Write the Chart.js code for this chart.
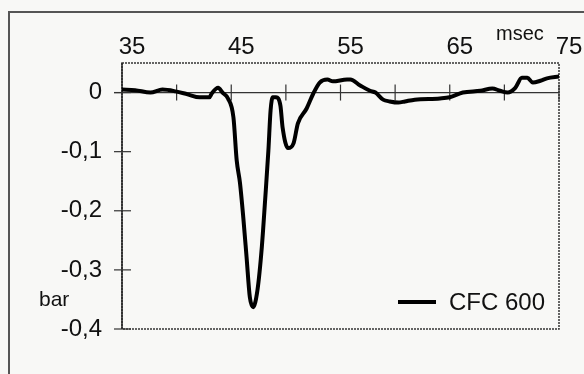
<!DOCTYPE html>
<html>
<head>
<meta charset="utf-8">
<script src="https://cdn.jsdelivr.net/npm/chart.js@4.4.1/dist/chart.umd.min.js"></script>
<style>
  html, body { margin: 0; padding: 0; background: #f8f8f6; }
  #wrap { width: 584px; height: 374px; }
</style>
</head>
<body>
<div id="wrap"><canvas id="chart" width="584" height="374"></canvas></div>
<script>
// pressure trace (bar) over time (msec), CFC 600 filter
const timeMs = [35.0, 36.2, 37.6, 38.7, 39.9, 41.0, 42.1, 43.0, 43.2, 43.8,
  44.2, 44.7, 45.2, 45.5, 45.8, 46.1, 46.4, 46.7, 47.0, 47.4,
  47.8, 48.1, 48.4, 48.6, 48.8, 49.1, 49.5, 49.7, 50.2, 50.7,
  51.1, 51.9, 52.5, 53.1, 53.8, 54.3, 55.6, 55.9, 56.8, 57.7,
  58.2, 58.9, 59.5, 60.3, 60.9, 61.8, 64.1, 65.0, 66.2, 67.8,
  68.9, 69.6, 70.3, 71.0, 71.6, 72.1, 72.6, 73.3, 73.9, 75.0];
const pressureBar = [0.005, 0.004, 0.000, 0.005, 0.002, -0.003, -0.008, -0.008, -0.002, 0.008,
  0.000, -0.010, -0.042, -0.115, -0.153, -0.211, -0.278, -0.346, -0.363, -0.334,
  -0.261, -0.182, -0.098, -0.030, -0.008, -0.008, -0.022, -0.059, -0.094, -0.086,
  -0.052, -0.027, -0.002, 0.017, 0.022, 0.019, 0.022, 0.022, 0.012, 0.003,
  0.000, -0.012, -0.015, -0.017, -0.015, -0.012, -0.010, -0.008, 0.000, 0.003,
  0.007, 0.003, 0.000, 0.008, 0.025, 0.025, 0.017, 0.020, 0.024, 0.027];
const xTicks = [35, 45, 55, 65, 75];
const xTickMarks = [40, 45, 50, 55, 60, 65, 70, 75];
const yTicks = [0, -0.1, -0.2, -0.3, -0.4];
const seriesLabel = "CFC 600";
const xUnit = "msec";
const yUnit = "bar";

const FONT = "'Liberation Sans', Arial, Helvetica, sans-serif";
const INK = "#111";

/* ---------- frames, axes, legend ---------- */
const decor = {
  id: "decor",
  beforeDatasetsDraw(chart) {
    const { ctx, chartArea: a, scales } = chart;
    const y0 = scales.y.getPixelForValue(0);
    ctx.save();
    // outer box
    ctx.strokeStyle = "#555";
    ctx.lineWidth = 2;
    ctx.beginPath();
    ctx.moveTo(9, 374);
    ctx.lineTo(9, 12);
    ctx.lineTo(584, 12);
    ctx.stroke();
    // dotted plot frame
    ctx.strokeStyle = "#333";
    ctx.lineWidth = 1.5;
    ctx.setLineDash([2, 1]);
    ctx.strokeRect(a.left, a.top, a.right - a.left, a.bottom - a.top);
    ctx.setLineDash([]);
    // left axis
    ctx.strokeStyle = "#222";
    ctx.lineWidth = 1.5;
    ctx.beginPath();
    ctx.moveTo(a.left, a.top);
    ctx.lineTo(a.left, a.bottom);
    ctx.stroke();
    // zero line
    ctx.lineWidth = 1.2;
    ctx.strokeStyle = "#333";
    ctx.beginPath();
    ctx.moveTo(a.left - 8, y0);
    ctx.lineTo(a.right, y0);
    ctx.stroke();
    // x tick marks crossing zero line
    xTickMarks.forEach((v) => {
      const x = scales.x.getPixelForValue(v);
      ctx.beginPath();
      ctx.moveTo(x, y0 - 8);
      ctx.lineTo(x, y0 + 8);
      ctx.stroke();
    });
    // y tick marks crossing left axis
    yTicks.forEach((v) => {
      const y = scales.y.getPixelForValue(v);
      ctx.beginPath();
      ctx.moveTo(a.left - 8, y);
      ctx.lineTo(a.left + 9, y);
      ctx.stroke();
    });
    ctx.restore();
  },
  afterDatasetsDraw(chart) {
    const { ctx } = chart;
    const ds = chart.data.datasets[0];
    ctx.save();
    ctx.fillStyle = INK;
    // unit labels
    ctx.font = "20px " + FONT;
    ctx.textBaseline = "alphabetic";
    ctx.textAlign = "left";
    ctx.fillText(xUnit, 496, 40);
    ctx.font = "21px " + FONT;
    ctx.textBaseline = "middle";
    ctx.fillText(yUnit, 39, 300);
    // legend
    ctx.strokeStyle = ds.borderColor;
    ctx.lineWidth = ds.borderWidth;
    ctx.beginPath();
    ctx.moveTo(398, 302);
    ctx.lineTo(436, 302);
    ctx.stroke();
    ctx.font = "24px " + FONT;
    ctx.fillText(ds.label, 449, 303);
    ctx.restore();
  },
};

new Chart(document.getElementById("chart").getContext("2d"), {
  type: "line",
  data: {
    datasets: [{
      label: seriesLabel,
      data: timeMs.map((t, i) => ({ x: t, y: pressureBar[i] })),
      borderColor: "#000",
      borderWidth: 4,
      pointRadius: 0,
      cubicInterpolationMode: "monotone",
      borderJoinStyle: "round",
      borderCapStyle: "round",
      fill: false,
    }],
  },
  options: {
    responsive: false,
    animation: false,
    devicePixelRatio: 1,
    layout: { padding: { left: 0, top: 0, right: 25, bottom: 45 } },
    plugins: { legend: { display: false }, tooltip: { enabled: false } },
    scales: {
      x: {
        type: "linear",
        position: "top",
        min: 35,
        max: 75,
        grid: { display: false, drawTicks: false },
        border: { display: false },
        afterBuildTicks: (s) => { s.ticks = xTicks.map((v) => ({ value: v })); },
        afterFit: (s) => { s.height = 63; s.paddingLeft = 0; s.paddingRight = 0; },
        ticks: {
          color: INK,
          font: { family: FONT, size: 24 },
          padding: 1,
          labelOffset: 10,
          maxRotation: 0,
          autoSkip: false,
          callback: (v) => String(v),
        },
      },
      y: {
        type: "linear",
        min: -0.4,
        max: 0.05,
        grid: { display: false, drawTicks: false },
        border: { display: false },
        afterBuildTicks: (s) => { s.ticks = yTicks.map((v) => ({ value: v })); },
        afterFit: (s) => { s.width = 122; },
        ticks: {
          color: INK,
          font: { family: FONT, size: 24 },
          padding: 20,
          callback: (v) => (v === 0 ? "0" : v.toFixed(1).replace(".", ",")),
        },
      },
    },
  },
  plugins: [decor],
});
</script>
</body>
</html>
